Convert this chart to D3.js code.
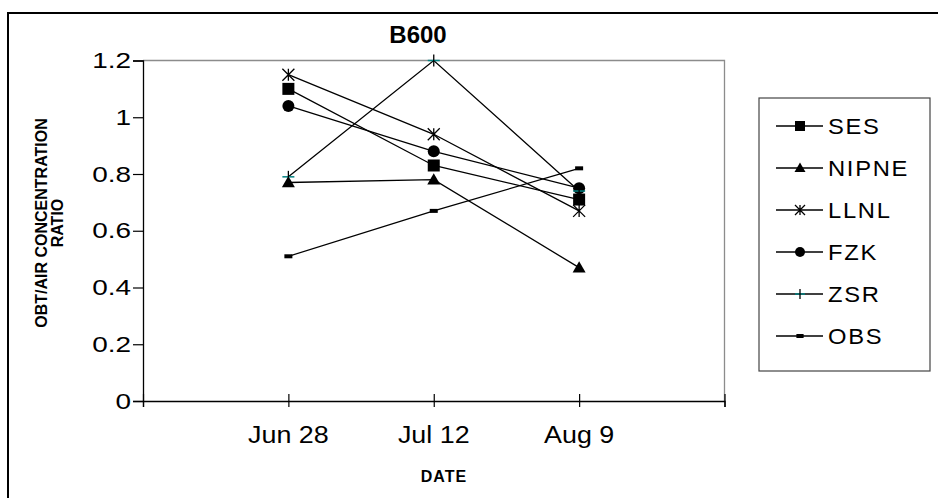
<!DOCTYPE html>
<html>
<head>
<meta charset="utf-8">
<script src="https://cdn.jsdelivr.net/npm/d3@7"></script>
<style>
  html, body { margin: 0; padding: 0; background: #fff; }
  svg { display: block; font-family: Arial, "Liberation Sans", sans-serif; }
</style>
</head>
<body>
<svg id="chart" width="938" height="498"></svg>
<script>
// Sampling dates (category axis)
const dates = ["Jun 28", "Jul 12", "Aug 9"];

// OBT/air concentration ratios per model / observation
const SES   = [1.10, 0.83, 0.71];
const NIPNE = [0.77, 0.78, 0.47];
const LLNL  = [1.15, 0.94, 0.67];
const FZK   = [1.04, 0.88, 0.75];
const ZSR   = [0.79, 1.20, 0.74];
const OBS   = [0.51, 0.67, 0.82];

const seriesNames = ["SES", "NIPNE", "LLNL", "FZK", "ZSR", "OBS"];
const seriesValues = [SES, NIPNE, LLNL, FZK, ZSR, OBS];
const markerKinds = ["square", "triangle", "star", "circle", "plus", "dash"];

const yTicks = [0, 0.2, 0.4, 0.6, 0.8, 1, 1.2];

const svg = d3.select("#chart");

// Outer chart frame
svg.append("rect")
  .attr("x", 8).attr("y", 13)
  .attr("width", 960).attr("height", 520)
  .attr("fill", "none").attr("stroke", "#000").attr("stroke-width", 2);

// Plot area
const plot = { left: 143, right: 724.5, top: 60.5, bottom: 401 };

// Category slots: one empty slot before and after the three dates
const x = d3.scaleLinear().domain([0, dates.length + 1]).range([plot.left, plot.right]);
const y = d3.scaleLinear().domain([0, 1.2]).range([plot.bottom, plot.top]);

// Grey top/right border of the plot area
svg.append("path")
  .attr("d", `M${plot.left},${plot.top}H${plot.right}V${plot.bottom}`)
  .attr("fill", "none").attr("stroke", "#8c8c8c").attr("stroke-width", 1.3);

// Y axis
const yAxis = svg.append("g").attr("transform", `translate(${plot.left},0)`)
  .call(d3.axisLeft(y).tickValues(yTicks).tickSize(10).tickFormat(""));
yAxis.select(".domain").attr("stroke-width", 1.3);
yAxis.selectAll(".tick line").attr("stroke-width", 1.2);

svg.append("g").selectAll("text")
  .data(yTicks).join("text")
  .attr("transform", d => `translate(131,${y(d)}) scale(1.3,1)`)
  .attr("text-anchor", "end")
  .attr("dy", "0.36em")
  .attr("font-size", 21.5)
  .attr("fill", "#000")
  .text(d => d3.format("")(d));

// X axis: ticks cross the axis line
const xAxis = svg.append("g").attr("transform", `translate(0,${plot.bottom})`)
  .call(d3.axisBottom(x).tickValues(d3.range(0, dates.length + 2)).tickSize(6).tickFormat(""));
xAxis.select(".domain").attr("stroke-width", 1.3);
xAxis.selectAll(".tick line").attr("y1", -7).attr("y2", 6).attr("stroke-width", 1.2);

svg.append("g").selectAll("text")
  .data(dates).join("text")
  .attr("transform", (d, i) => `translate(${x(i + 1)},443) scale(1.12,1)`)
  .attr("text-anchor", "middle")
  .attr("font-size", 24)
  .attr("fill", "#000")
  .text(d => d);

// Titles
svg.append("text")
  .attr("x", 418).attr("y", 43)
  .attr("text-anchor", "middle")
  .attr("font-size", 24).attr("font-weight", "bold")
  .text("B600");

svg.append("text")
  .attr("x", 444).attr("y", 482)
  .attr("text-anchor", "middle")
  .attr("font-size", 16).attr("font-weight", "bold")
  .attr("letter-spacing", 1)
  .text("DATE");

const yTitle = svg.append("text")
  .attr("transform", "translate(0,223) rotate(-90)")
  .attr("text-anchor", "middle")
  .attr("font-size", 16).attr("font-weight", "bold");
yTitle.append("tspan").attr("x", 0).attr("y", 46.5).text("OBT/AIR CONCENTRATION");
yTitle.append("tspan").attr("x", 0).attr("y", 63).text("RATIO");

// Marker drawing
function drawMarker(g, kind, s) {
  if (kind === "square") {
    g.append("rect").attr("x", -s / 2).attr("y", -s / 2).attr("width", s).attr("height", s).attr("fill", "#000");
  } else if (kind === "triangle") {
    const h = s * 0.9;
    g.append("path").attr("d", `M0,${-h * 0.6}L${s / 2 + 0.5},${h * 0.45}L${-s / 2 - 0.5},${h * 0.45}Z`).attr("fill", "#000");
  } else if (kind === "circle") {
    g.append("circle").attr("r", s / 2).attr("fill", "#000");
  } else if (kind === "star") {
    const r = s / 2;
    g.append("path")
      .attr("d", `M${-r},${-r}L${r},${r}M${-r},${r}L${r},${-r}M0,${-r}V${r}`)
      .attr("stroke", "#000").attr("stroke-width", 1.3).attr("fill", "none");
  } else if (kind === "plus") {
    const r = s / 2;
    g.append("path").attr("d", `M${-r},0H${r}`).attr("stroke", "#008080").attr("stroke-width", 1.5);
    g.append("path").attr("d", `M0,${-r}V${r}`).attr("stroke", "#000").attr("stroke-width", 1.3);
  } else if (kind === "dash") {
    g.append("rect").attr("x", -s * 0.4).attr("y", -2).attr("width", s * 0.8).attr("height", 4).attr("fill", "#000");
  }
}

const line = d3.line().x((d, i) => x(i + 1)).y(d => y(d));

seriesValues.forEach((vals, k) => {
  const g = svg.append("g");
  g.append("path").datum(vals)
    .attr("d", line)
    .attr("fill", "none").attr("stroke", "#000").attr("stroke-width", 1.3);
  vals.forEach((v, i) => {
    const m = g.append("g").attr("transform", `translate(${x(i + 1)},${y(v)})`);
    drawMarker(m, markerKinds[k], markerKinds[k] === "dash" ? 10 : 12);
  });
});

// Legend
const legend = svg.append("g");
legend.append("rect")
  .attr("x", 759).attr("y", 98)
  .attr("width", 171).attr("height", 273)
  .attr("fill", "#fff").attr("stroke", "#444").attr("stroke-width", 1.2);

const legendRow = d3.scaleLinear().domain([0, seriesNames.length - 1]).range([126, 336]);
seriesNames.forEach((name, k) => {
  const row = legend.append("g").attr("transform", `translate(0,${legendRow(k)})`);
  row.append("line").attr("x1", 776).attr("x2", 823).attr("stroke", "#000").attr("stroke-width", 1.3);
  const m = row.append("g").attr("transform", "translate(800,0)");
  drawMarker(m, markerKinds[k], markerKinds[k] === "dash" ? 9 : 10);
  row.append("text")
    .attr("transform", "translate(828,0) scale(1.08,1)")
    .attr("dy", "0.36em")
    .attr("font-size", 22).attr("fill", "#000")
    .attr("letter-spacing", 1.6)
    .text(name);
});
</script>
</body>
</html>
